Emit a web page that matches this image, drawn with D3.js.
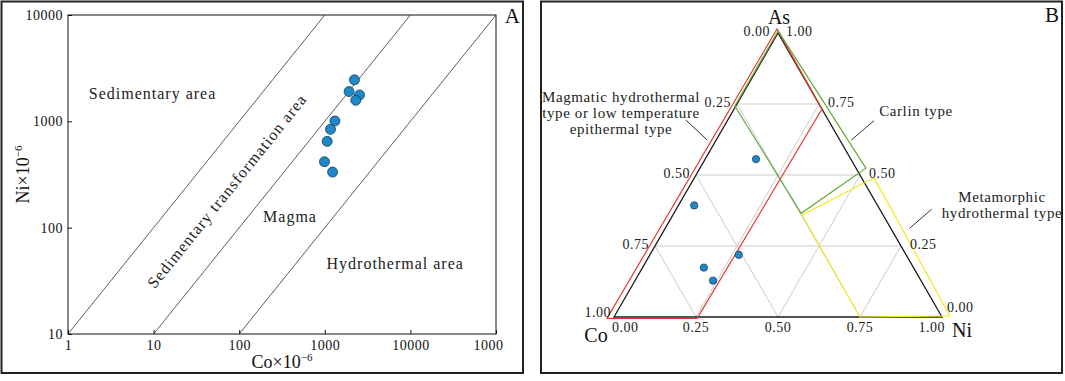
<!DOCTYPE html>
<html>
<head>
<meta charset="utf-8">
<script src="https://cdn.jsdelivr.net/npm/d3@7"></script>
<style>
  body { margin: 0; background: #fff; }
  svg { display: block; font-family: "Liberation Serif", "Times New Roman", serif; }
</style>
</head>
<body>
<div id="chart-area"></div>
<script>
// ---------- panel A data (Co vs Ni, ppm) ----------
let coValues = [2220, 1920, 2545, 2300, 1312, 1166, 1066, 991, 1232];
let niValues = [2455, 1905, 1772, 1578, 1007, 841, 648, 417, 333];
let xTickValues = [1, 10, 100, 1000, 10000, 100000];
let xTickLabels = ["1", "10", "100", "1000", "10000", "1000"];
let yTickValues = [10, 100, 1000, 10000];
let yTickLabels = ["10", "100", "1000", "10000"];
// boundary lines, [Co, Ni] end points
let boundaryStart = [[1, 10], [10, 10], [100, 10]];
let boundaryEnd = [[1000, 10000], [10000, 10000], [100000, 10000]];
let areaNames = ["Sedimentary area", "Magma", "Hydrothermal area"];
let rotatedName = "Sedimentary transformation area";

// ---------- panel B data (ternary Co - Ni - As) ----------
let ternaryTicks = [0, 0.25, 0.5, 0.75, 1];
let ternaryTickLabels = ["0.00", "0.25", "0.50", "0.75", "1.00"];
let gridLevels = [0.25, 0.5, 0.75];
let sampleCo = [0.289, 0.559, 0.510, 0.639, 0.634];
let sampleNi = [0.155, 0.048, 0.271, 0.187, 0.238];
let sampleAs = [0.556, 0.393, 0.219, 0.174, 0.128];
// field outlines as [Co, Ni, As]
let magmaticField = [[-0.004, -0.010, 1.014], [1.024, -0.019, -0.005], [0.749, 0.256, -0.005], [0, 0.268, 0.732]];
let carlinField = [[-0.004, -0.003, 1.007], [0.260, -0.003, 0.743], [0.247, 0.388, 0.365], [-0.030, 0.506, 0.524]];
let metamorphicField = [[-0.038, 0.548, 0.490], [0.247, 0.394, 0.359], [0.25, 0.75, 0], [-0.026, 1.022, 0.004]];
let fieldNames = [["Magmatic hydrothermal", "type or low temperature", "epithermal type"], ["Carlin type"], ["Metamorphic", "hydrothermal type"]];

let svg = d3.select("#chart-area")
    .append("svg")
    .attr("width", 1065)
    .attr("height", 381);

// panel frames
svg.append("rect").attr("x", 1.5).attr("y", 1.5).attr("width", 521.5).attr("height", 371.5)
    .attr("fill", "none").attr("stroke", "#222").attr("stroke-width", 2);
svg.append("rect").attr("x", 541).attr("y", 1.5).attr("width", 521).attr("height", 371.5)
    .attr("fill", "none").attr("stroke", "#222").attr("stroke-width", 2);

// ================= panel A =================
let x = d3.scaleLog().domain([1, 100000]).range([68, 496]);
let y = d3.scaleLog().domain([10, 10000]).range([334, 15]);

let gA = svg.append("g");

gA.append("rect")
    .attr("x", x(1)).attr("y", y(10000))
    .attr("width", x(100000) - x(1)).attr("height", y(10) - y(10000))
    .attr("fill", "none").attr("stroke", "#111").attr("stroke-width", 1);

// boundary lines
gA.selectAll(".boundary")
    .data(boundaryStart)
    .enter().append("line")
    .attr("x1", d => x(d[0]))
    .attr("y1", d => y(d[1]))
    .attr("x2", (d, i) => x(boundaryEnd[i][0]))
    .attr("y2", (d, i) => y(boundaryEnd[i][1]))
    .attr("stroke", "#333")
    .attr("stroke-width", 0.8);

let xAxis = d3.axisBottom(x)
    .tickValues(xTickValues)
    .tickFormat((d, i) => xTickLabels[i])
    .tickSizeInner(-4).tickSizeOuter(0).tickPadding(6);
let xAxisGroup = gA.append("g")
    .attr("transform", "translate(0," + y(10) + ")")
    .call(xAxis);

let yAxis = d3.axisLeft(y)
    .tickValues(yTickValues)
    .tickFormat((d, i) => yTickLabels[i])
    .tickSizeInner(-4).tickSizeOuter(0).tickPadding(5);
let yAxisGroup = gA.append("g")
    .attr("transform", "translate(" + x(1) + ",0)")
    .call(yAxis);

[xAxisGroup, yAxisGroup].forEach(function(ax) {
    ax.select(".domain").remove();
    ax.selectAll("line").attr("stroke", "#111");
    ax.selectAll("text")
        .attr("fill", "#111")
        .style("font-family", "Liberation Serif")
        .style("font-size", "14px")
        .style("letter-spacing", "0.5px");
});
// last label is shifted a little in the original
xAxisGroup.selectAll(".tick text").filter((d, i) => i == xTickValues.length - 1).attr("dx", -8);

// axis titles
let xTitle = gA.append("text")
    .attr("x", (x(1) + x(100000)) / 2).attr("y", 368)
    .attr("text-anchor", "middle")
    .style("font-size", "18px").attr("fill", "#111");
xTitle.append("tspan").text("Co×10");
xTitle.append("tspan").text("−6").attr("dy", -7).style("font-size", "11px");

let yTitle = gA.append("text")
    .attr("transform", "translate(29," + (y(10) + y(10000)) / 2 + ") rotate(-90)")
    .attr("text-anchor", "middle")
    .style("font-size", "18px").attr("fill", "#111");
yTitle.append("tspan").text("Ni×10");
yTitle.append("tspan").text("−6").attr("dy", -7).style("font-size", "11px");

// area names
let areaPos = [[1.75, 1620], [190, 113], [1047, 40.7]];
gA.selectAll(".area-name")
    .data(areaNames)
    .enter().append("text")
    .attr("x", (d, i) => x(areaPos[i][0]))
    .attr("y", (d, i) => y(areaPos[i][1]))
    .text(d => d)
    .style("font-size", "16px")
    .style("letter-spacing", "1px")
    .attr("fill", "#222");

let angle = Math.atan2(y(10000) - y(10), x(10000) - x(10)) * 180 / Math.PI;
gA.append("text")
    .attr("transform", "translate(" + x(72) + "," + y(222) + ") rotate(" + angle + ")")
    .attr("text-anchor", "middle")
    .attr("dominant-baseline", "central")
    .text(rotatedName)
    .style("font-size", "16px")
    .style("letter-spacing", "1.1px")
    .attr("fill", "#222");

// samples
gA.selectAll(".sample")
    .data(coValues)
    .enter().append("circle")
    .attr("cx", d => x(d))
    .attr("cy", (d, i) => y(niValues[i]))
    .attr("r", 5)
    .attr("fill", "#1f88c9")
    .attr("stroke", "#1b3a58")
    .attr("stroke-width", 0.8);

gA.append("text").attr("x", 520).attr("y", 23).attr("text-anchor", "end")
    .text("A").style("font-size", "21px").attr("fill", "#111");

// ================= panel B =================
let tx = d3.scaleLinear().domain([0, 1]).range([614, 942]);
let ty = d3.scaleLinear().domain([0, 1]).range([317, 33]);
// [Co, Ni, As] -> pixel
function tern(p) {
    return [tx(p[1] + p[2] / 2), ty(p[2])];
}

let gB = svg.append("g");

// grid
let gridSegs = [];
gridLevels.forEach(function(v) {
    gridSegs.push([[1 - v, 0, v], [0, 1 - v, v]]);   // As = v
    gridSegs.push([[v, 0, 1 - v], [v, 1 - v, 0]]);   // Co = v
    gridSegs.push([[0, v, 1 - v], [1 - v, v, 0]]);   // Ni = v
});
gB.selectAll(".grid")
    .data(gridSegs)
    .enter().append("line")
    .attr("x1", d => tern(d[0])[0]).attr("y1", d => tern(d[0])[1])
    .attr("x2", d => tern(d[1])[0]).attr("y2", d => tern(d[1])[1])
    .attr("stroke", "#cccccc").attr("stroke-width", 1);

let polyLine = d3.line().x(d => tern(d)[0]).y(d => tern(d)[1]).curve(d3.curveLinearClosed);

// triangle
gB.append("path")
    .attr("d", polyLine([[1, 0, 0], [0, 1, 0], [0, 0, 1]]))
    .attr("fill", "none").attr("stroke", "#1a1a1a").attr("stroke-width", 1.3);

// fields
let fields = [magmaticField, carlinField, metamorphicField];
let fieldColors = ["#e8382d", "#62a83a", "#f2ea1c"];
gB.selectAll(".field")
    .data(fields)
    .enter().append("path")
    .attr("d", d => polyLine(d))
    .attr("fill", "none")
    .attr("stroke", (d, i) => fieldColors[i])
    .attr("stroke-width", 1.2);

// tick labels
let tickStyle = sel => sel.style("font-size", "14px").style("letter-spacing", "0.5px").attr("fill", "#222");
// left edge: Co fraction
gB.selectAll(".tl")
    .data(ternaryTicks)
    .enter().append("text")
    .attr("x", d => tern([d, 0, 1 - d])[0] - (d == 1 ? 3 : (d == 0 ? 8 : 6)))
    .attr("y", d => tern([d, 0, 1 - d])[1] - (d == 1 ? 5 : 2))
    .attr("text-anchor", "end")
    .attr("dominant-baseline", "central")
    .text((d, i) => ternaryTickLabels[i])
    .call(tickStyle);
// bottom edge: Ni fraction
gB.selectAll(".tb")
    .data(ternaryTicks)
    .enter().append("text")
    .attr("x", d => tern([1 - d, d, 0])[0] + (d == 0 ? -2 : (d == 1 ? 3 : 0)))
    .attr("y", d => tern([1 - d, d, 0])[1] + 15)
    .attr("text-anchor", d => d == 0 ? "start" : (d == 1 ? "end" : "middle"))
    .text((d, i) => ternaryTickLabels[i])
    .call(tickStyle);
// right edge: As fraction
gB.selectAll(".tr")
    .data(ternaryTicks)
    .enter().append("text")
    .attr("x", d => tern([0, 1 - d, d])[0] + (d == 0 ? 5 : (d == 1 ? 8 : 9)))
    .attr("y", d => tern([0, 1 - d, d])[1] - (d == 0 ? 10 : 2))
    .attr("dominant-baseline", "central")
    .text((d, i) => ternaryTickLabels[i])
    .call(tickStyle);

// vertex names
let vertexNames = ["Co", "Ni", "As"];
let vertexPts = [[1, 0, 0], [0, 1, 0], [0, 0, 1]];
let vertexOff = [[-18, 25], [20, 20], [1, -9]];
gB.selectAll(".vname")
    .data(vertexNames)
    .enter().append("text")
    .attr("x", (d, i) => tern(vertexPts[i])[0] + vertexOff[i][0])
    .attr("y", (d, i) => tern(vertexPts[i])[1] + vertexOff[i][1])
    .attr("text-anchor", "middle")
    .text(d => d)
    .style("font-size", "20px")
    .attr("fill", "#111");

// field names + leader lines
let nameCenter = [[621, 102], [916, 116], [1002, 202]];
let leaders = [[[685.8, 120], [707.2, 140]], [[874, 120.7], [851.3, 140]], [[931.6, 209.3], [909.6, 228.3]]];
fieldNames.forEach(function(lines, k) {
    let t = gB.append("text")
        .attr("text-anchor", "middle")
        .style("font-size", "15px")
        .style("letter-spacing", "0.6px")
        .attr("fill", "#222");
    lines.forEach(function(s, j) {
        t.append("tspan")
            .attr("x", nameCenter[k][0])
            .attr("y", nameCenter[k][1] + j * 16)
            .text(s);
    });
});
gB.selectAll(".leader")
    .data(leaders)
    .enter().append("line")
    .attr("x1", d => d[0][0]).attr("y1", d => d[0][1])
    .attr("x2", d => d[1][0]).attr("y2", d => d[1][1])
    .attr("stroke", "#333").attr("stroke-width", 1);

// samples
gB.selectAll(".tsample")
    .data(sampleCo)
    .enter().append("circle")
    .attr("cx", (d, i) => tern([d, sampleNi[i], sampleAs[i]])[0])
    .attr("cy", (d, i) => tern([d, sampleNi[i], sampleAs[i]])[1])
    .attr("r", 3.7)
    .attr("fill", "#1f88c9")
    .attr("stroke", "#1b3a58")
    .attr("stroke-width", 0.7);

gB.append("text").attr("x", 1059).attr("y", 22).attr("text-anchor", "end")
    .text("B").style("font-size", "21px").attr("fill", "#111");
</script>
</body>
</html>
